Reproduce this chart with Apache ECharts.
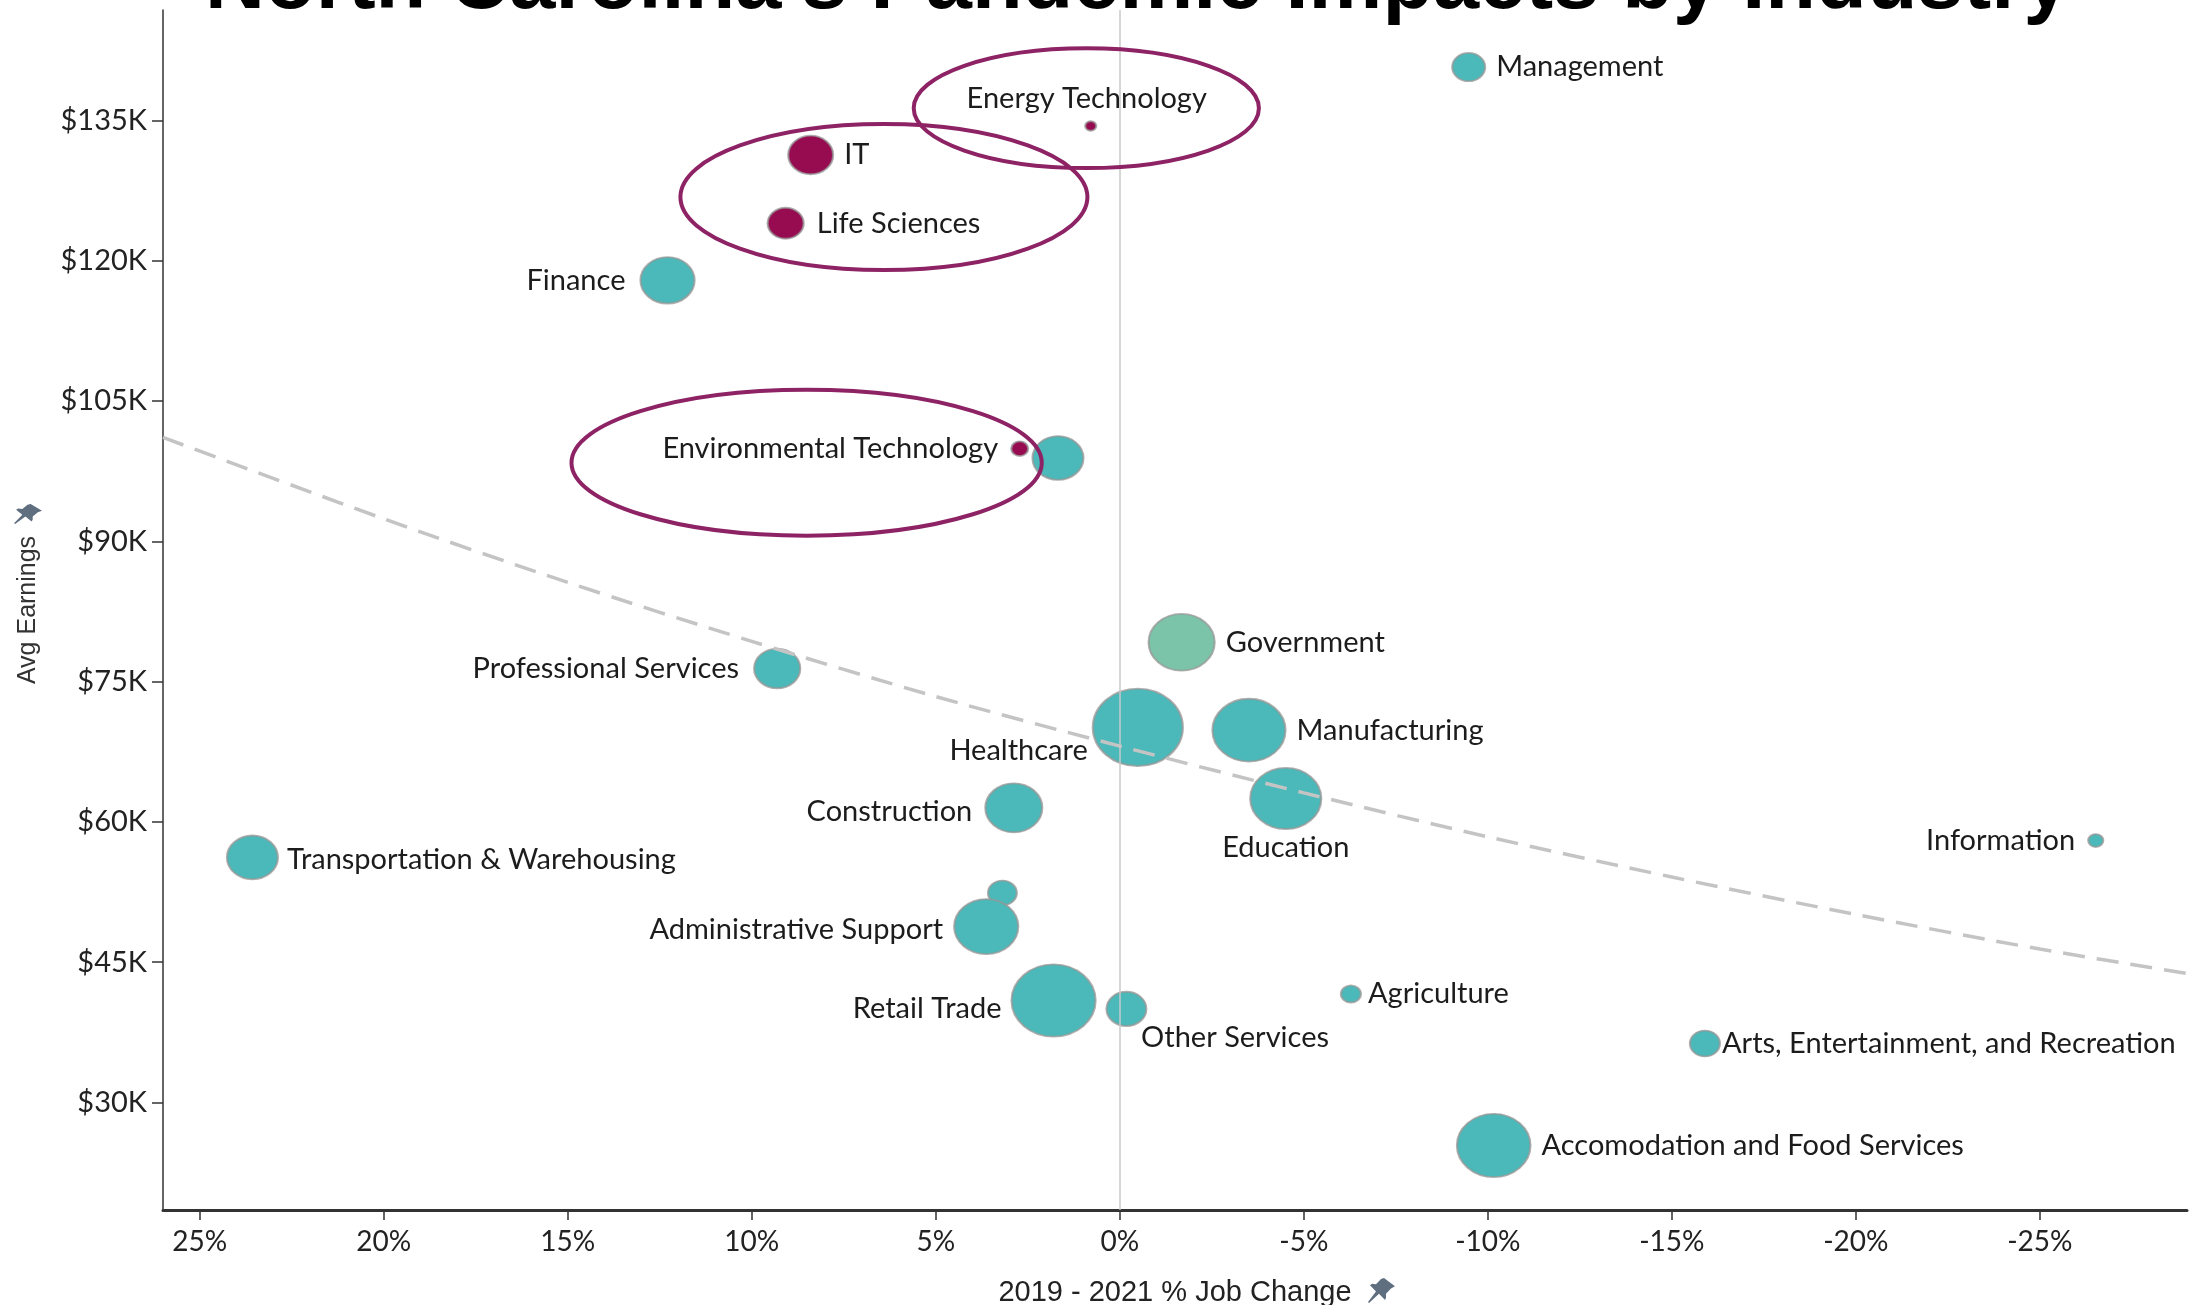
<!DOCTYPE html>
<html>
<head>
<meta charset="utf-8">
<script src="https://cdn.jsdelivr.net/npm/echarts@6/dist/echarts.min.js"></script>
<style>
html,body{margin:0;padding:0;background:#ffffff;}
#chart{width:2208px;height:1305px;}
</style>
</head>
<body>
<div id="chart"></div>
<script>
// ---------------- data ----------------
const industries = [
  'Management', 'Energy Technology', 'IT', 'Life Sciences', 'Finance',
  'Environmental Technology', '', 'Government', 'Professional Services', 'Healthcare',
  'Manufacturing', 'Education', 'Construction', 'Information', 'Transportation & Warehousing',
  '', 'Administrative Support', 'Retail Trade', 'Other Services', 'Agriculture',
  'Arts, Entertainment, and Recreation', 'Accomodation and Food Services'
];
// 2019 - 2021 % job change
const jobChange = [
  -9.48, 0.79, 8.40, 9.08, 12.29,
  2.72, 1.68, -1.68, 9.31, -0.49,
  -3.51, -4.51, 2.88, -26.52, 23.57,
  3.19, 3.63, 1.80, -0.18, -6.28,
  -15.9, -10.16
];
// average earnings, $K
const avgEarnings = [
  140.7, 134.4, 131.3, 124.0, 117.9,
  99.9, 98.9, 79.2, 76.4, 70.1,
  69.8, 62.5, 61.5, 58.0, 56.2,
  52.4, 48.8, 40.9, 40.0, 41.6,
  36.3, 25.4
];
// relative employment (bubble size measure)
const employment = [
  30, 3.4, 56, 36, 81,
  8, 72, 121, 59, 225,
  148, 140, 90, 6.25, 72,
  23, 114, 196, 44, 11,
  25, 150
];
const sector = [
  'other', 'highlight', 'highlight', 'highlight', 'other',
  'highlight', 'other', 'government', 'other', 'other',
  'other', 'other', 'other', 'other', 'other',
  'other', 'other', 'other', 'other', 'other',
  'other', 'other'
];
const xTickValues = [25, 20, 15, 10, 5, 0, -5, -10, -15, -20, -25];
const yTickValues = [30, 45, 60, 75, 90, 105, 120, 135];
// dashed trend line
const trendX = [26, 20, 15, 10, 5, 0, -5, -10, -15, -20, -25, -29];
const trendY = [101.1, 92.4, 85.6, 79.3, 73.4, 68.1, 63.1, 58.4, 54.1, 50.1, 46.4, 43.8];
// circled groups (centre and half-extent in data units)
const circledCX = [0.91, 6.41, 8.51];
const circledCY = [136.3, 126.8, 98.4];
const circledRX = [4.69, 5.53, 6.39];
const circledRY = [6.4, 7.8, 7.8];

// ---------------- styles ----------------
const colorOf = { highlight: '#970b50', government: '#7bc4a9', other: '#4bb9b9' };
const labelFont = { fontFamily: 'Lato', fontSize: 29, color: '#1c1c1c' };
const labelPlacement = {
  'Management': { position: 'right' },
  'Energy Technology': { position: 'top', distance: 7, offset: [-4, 0] },
  'IT': { position: 'right' },
  'Life Sciences': { position: 'right', distance: 12 },
  'Finance': { position: 'left', distance: 14 },
  'Environmental Technology': { position: 'left', distance: 12 },
  'Government': { position: 'right' },
  'Professional Services': { position: 'left', distance: 14 },
  'Healthcare': { position: 'left', distance: 4, offset: [0, 23] },
  'Manufacturing': { position: 'right' },
  'Education': { position: 'bottom', distance: 3 },
  'Construction': { position: 'left', distance: 12, offset: [0, 4] },
  'Information': { position: 'left', distance: 12 },
  'Transportation & Warehousing': { position: 'right', distance: 8, offset: [0, 2] },
  'Administrative Support': { position: 'left', offset: [0, 3] },
  'Retail Trade': { position: 'left', distance: 9, offset: [0, 8] },
  'Other Services': { position: ['85%', '130%'], align: 'left', verticalAlign: 'middle' },
  'Agriculture': { position: 'right', distance: 6 },
  'Arts, Entertainment, and Recreation': { position: 'right', distance: 1 },
  'Accomodation and Food Services': { position: 'right' }
};

const scatterData = industries.map((name, i) => {
  const place = labelPlacement[name];
  return {
    name: name,
    value: [jobChange[i], avgEarnings[i], employment[i]],
    itemStyle: { color: colorOf[sector[i]] },
    label: place ? Object.assign({ show: true, formatter: name, distance: 10 }, labelFont, place)
                 : { show: false }
  };
});
const trendData = trendX.map((x, i) => [x, trendY[i]]);

const chart = echarts.init(document.getElementById('chart'), null, { renderer: 'canvas' });

const option = {
  backgroundColor: '#ffffff',
  animation: false,
  title: {
    text: "North Carolina's Pandemic Impacts by Industry",
    left: 200,
    top: -61,
    textStyle: { fontFamily: 'Liberation Sans', fontWeight: 'bold', fontSize: 83, color: '#000000' }
  },
  grid: { left: 163, right: 21, top: 10, bottom: 95, containLabel: false, outerBoundsMode: 'none' },
  xAxis: {
    type: 'value',
    inverse: true,
    min: -29,
    max: 26,
    name: '2019 - 2021 % Job Change',
    nameLocation: 'middle',
    nameGap: 68,
    nameTextStyle: { fontFamily: 'Liberation Sans', fontSize: 29, color: '#222222' },
    axisLine: { show: true, onZero: false, lineStyle: { color: '#333333', width: 3 } },
    axisTick: { show: true, length: 10, customValues: xTickValues, lineStyle: { color: '#333333', width: 1.5 } },
    axisLabel: {
      customValues: xTickValues,
      formatter: v => v + '%',
      margin: 18,
      fontFamily: 'Lato', fontSize: 28, color: '#222222'
    },
    splitLine: { show: false }
  },
  yAxis: {
    type: 'value',
    min: 18.5,
    max: 146.8,
    name: 'Avg Earnings',
    nameLocation: 'middle',
    nameGap: 122,
    nameTextStyle: { fontFamily: 'Liberation Sans', fontSize: 25, color: '#333333' },
    axisLine: { show: true, onZero: false, lineStyle: { color: '#333333', width: 1.5 } },
    axisTick: { show: true, length: 11, customValues: yTickValues, lineStyle: { color: '#333333', width: 1.5 } },
    axisLabel: {
      customValues: yTickValues,
      formatter: v => '$' + v + 'K',
      margin: 16,
      fontFamily: 'Lato', fontSize: 29, color: '#222222'
    },
    splitLine: { show: false }
  },
  series: [
    {
      type: 'scatter',
      data: [],
      z: 1,
      silent: true,
      markLine: {
        silent: true,
        symbol: 'none',
        label: { show: false },
        lineStyle: { color: '#c8c8c8', width: 1.5, type: 'solid' },
        data: [{ xAxis: 0 }]
      }
    },
    {
      type: 'scatter',
      z: 3,
      data: scatterData,
      symbol: 'circle',
      symbolSize: v => {
        const d = 6 * Math.sqrt(v[2]);
        return [d, d * 0.86];
      },
      itemStyle: { borderColor: 'rgba(150,150,150,0.75)', borderWidth: 2, opacity: 1 },
      emphasis: { disabled: true }
    },
    {
      type: 'line',
      z: 4,
      data: trendData,
      smooth: 0.3,
      symbol: 'none',
      silent: true,
      lineStyle: { color: '#c4c4c4', width: 3.5, type: [22, 12] }
    }
  ]
};
chart.setOption(option);

// annotation ellipses placed through the chart's own coordinate system
const graphics = [];
for (let i = 0; i < circledCX.length; i++) {
  const c = chart.convertToPixel({ gridIndex: 0 }, [circledCX[i], circledCY[i]]);
  const e = chart.convertToPixel({ gridIndex: 0 }, [circledCX[i] - circledRX[i], circledCY[i] - circledRY[i]]);
  graphics.push({
    type: 'ellipse',
    silent: true,
    z: 10,
    shape: { cx: c[0], cy: c[1], rx: Math.abs(e[0] - c[0]), ry: Math.abs(e[1] - c[1]) },
    style: { fill: 'none', stroke: '#8d2364', lineWidth: 4 }
  });
}
// pushpin icon (decoration next to the axis titles)
const pinShape = [[17, 0], [28, 8], [24, 10], [19, 15], [19, 19], [18, 21], [12, 15], [2, 24], [1, 23], [9, 13], [3, 7], [5, 5.5], [9, 6], [14, 1]];
function pin(x0, y0, w, h) {
  return {
    type: 'polygon', silent: true, z: 10,
    shape: { points: pinShape.map(p => [x0 + p[0] * w / 28, y0 + p[1] * h / 24]) },
    style: { fill: '#5f6f80' }
  };
}
graphics.push(pin(13, 504, 29, 20));
graphics.push(pin(1367, 1278, 28, 25));
chart.setOption({ graphic: graphics });
</script>
</body>
</html>
